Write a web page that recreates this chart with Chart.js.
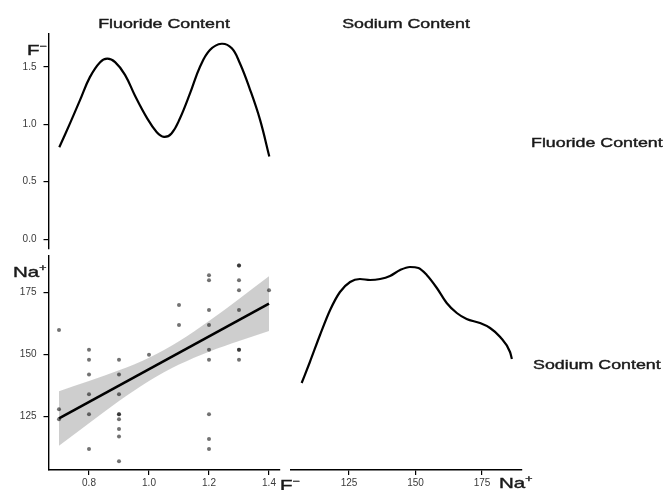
<!DOCTYPE html>
<html lang="en">
<head>
  <meta charset="UTF-8">
  <title>Fluoride / Sodium pairs plot</title>
  <script src="https://cdn.jsdelivr.net/npm/chart.js"></script>
  <style>
    body {
      margin: 0;
      background: #fff;
      font-family: "Liberation Sans", Arial, sans-serif;
    }
    #page {
      position: relative;
      width: 665px;
      height: 490px;
      overflow: hidden;
    }
    .layer {
      position: absolute;
      left: 0;
      top: 0;
      width: 665px;
      height: 490px;
    }
    .lbl {
      position: absolute;
      white-space: nowrap;
      color: #1a1a1a;
      line-height: 1;
      -webkit-text-stroke: 0.4px #1a1a1a;
    }
    .mid { transform: translate(-50%, -50%) scaleX(1.37); }
    .left { transform-origin: left center; transform: translateY(-50%) scaleX(1.37); }
    .strip { font-size: 13px; }
    .ax { font-size: 15px; }
    .ax sup { font-size: 9px; vertical-align: 6px; }
  </style>
</head>
<body>
<div id="page">
  <div class="layer"><canvas id="fDens"></canvas></div>
  <div class="layer"><canvas id="scatter"></canvas></div>
  <div class="layer"><canvas id="naDens"></canvas></div>

  <div class="lbl strip mid" style="left:164px;top:23px">Fluoride Content</div>
  <div class="lbl strip mid" style="left:406px;top:23px">Sodium Content</div>
  <div class="lbl strip left" style="left:531px;top:142px">Fluoride Content</div>
  <div class="lbl strip left" style="left:533px;top:364px">Sodium Content</div>

  <div class="lbl ax left" style="left:27px;top:49px">F<sup>−</sup></div>
  <div class="lbl ax left" style="left:13px;top:271px">Na<sup>+</sup></div>
  <div class="lbl ax left" style="left:280px;top:484px">F<sup>−</sup></div>
  <div class="lbl ax left" style="left:499px;top:482px">Na<sup>+</sup></div>
</div>

<script>
  // density of fluoride (diagonal, top-left)
  const fGrid = [0.701, 0.737, 0.770, 0.803, 0.837, 0.861, 0.887, 0.920, 0.953, 0.992, 1.026, 1.050,
                 1.075, 1.103, 1.137, 1.170, 1.203, 1.242, 1.276, 1.303, 1.337, 1.370, 1.401];
  const fDensity = [0.80, 1.01, 1.21, 1.41, 1.54, 1.57, 1.54, 1.43, 1.25, 1.06, 0.93, 0.89,
                    0.92, 1.05, 1.27, 1.50, 1.645, 1.70, 1.66, 1.53, 1.30, 1.04, 0.72];

  // density of sodium (diagonal, bottom-right)
  const naGrid = [107.2, 110.3, 114.1, 117.9, 121.6, 125.4, 129.1, 132.9, 136.7, 140.4, 144.2, 147.9,
                  151.1, 154.2, 158.0, 161.7, 165.5, 169.2, 174.2, 178.0, 181.8, 185.5, 186.2];
  const naDensity = [0.0087, 0.0108, 0.0135, 0.0160, 0.0178, 0.0188, 0.0191, 0.0190, 0.0191, 0.0194, 0.0200, 0.0203,
                     0.0202, 0.0195, 0.0182, 0.0167, 0.0157, 0.0151, 0.0147, 0.0142, 0.0133, 0.0118, 0.0111];

  // scatter (bottom-left)
  const fluoride = [0.7, 0.7, 0.7,
                    0.8, 0.8, 0.8, 0.8, 0.8, 0.8,
                    0.9, 0.9, 0.9, 0.9, 0.9, 0.9, 0.9, 0.9, 0.9,
                    1.0,
                    1.1, 1.1,
                    1.2, 1.2, 1.2, 1.2, 1.2, 1.2, 1.2, 1.2, 1.2,
                    1.3, 1.3, 1.3, 1.3, 1.3, 1.3, 1.3, 1.3,
                    1.4];
  const sodium = [160, 128, 124,
                  152, 148, 142, 134, 126, 112,
                  148, 142, 134, 126, 126, 124, 120, 117, 107,
                  150,
                  170, 162,
                  182, 180, 168, 162, 152, 148, 126, 116, 112,
                  186, 186, 180, 176, 168, 152, 152, 148,
                  176];

  // linear fit and its confidence band
  const fitX = [0.7, 1.4];
  const fitY = [124.3, 170.6];
  const bandX = [0.7, 0.8, 0.9, 1.0, 1.1, 1.2, 1.3, 1.4];
  const bandUpper = [135.3, 139.4, 143.7, 148.8, 155.4, 163.6, 172.5, 181.6];
  const bandLower = [113.3, 122.4, 131.3, 139.4, 146.0, 151.2, 155.5, 159.6];

  // tick labels
  const densTicks = [0, 0.5, 1.0, 1.5];
  const fTicks = [0.8, 1.0, 1.2, 1.4];
  const naTicks = [125, 150, 175];

  const tickFont = { family: '"Liberation Sans", Arial, sans-serif', size: 10 };
  const tickColor = '#3a3a3a';

  function pts(xs, ys) {
    return xs.map((x, i) => ({ x: x, y: ys[i] }));
  }

  function setTicks(values) {
    return s => { s.ticks = values.map(v => ({ value: v })); };
  }

  const axisBorder = { display: true, color: '#000', width: 1.4 };
  const axisGrid = { display: true, drawOnChartArea: false, drawTicks: true, tickLength: 5, color: '#000', lineWidth: 1.2 };

  const baseOpts = {
    responsive: true,
    maintainAspectRatio: false,
    animation: false,
    events: [],
    plugins: { legend: { display: false }, tooltip: { enabled: false } }
  };

  // top-left: fluoride density
  new Chart(document.getElementById('fDens'), {
    type: 'line',
    data: {
      datasets: [{
        data: pts(fGrid, fDensity),
        borderColor: '#000',
        borderWidth: 2.2,
        pointRadius: 0,
        tension: 0.4,
        fill: false
      }]
    },
    options: {
      ...baseOpts,
      layout: { padding: { left: 0, top: 34, right: 385.5, bottom: 241 } },
      scales: {
        x: { type: 'linear', min: 0.665, max: 1.435, display: false },
        y: {
          min: -0.085, max: 1.785,
          afterFit: s => { s.width = 48.5; },
          afterBuildTicks: setTicks(densTicks),
          border: axisBorder,
          grid: axisGrid,
          ticks: { font: tickFont, color: tickColor, padding: 7, callback: v => v.toFixed(1) }
        }
      }
    }
  });

  // bottom-left: scatter with fit
  new Chart(document.getElementById('scatter'), {
    type: 'scatter',
    data: {
      datasets: [
        {
          data: pts(fluoride, sodium),
          backgroundColor: 'rgba(20,20,20,0.6)',
          borderWidth: 0,
          pointRadius: 2
        },
        {
          type: 'line',
          data: pts(fitX, fitY),
          borderColor: '#000',
          borderWidth: 2.6,
          pointRadius: 0,
          fill: false
        },
        {
          type: 'line',
          data: pts(bandX, bandUpper),
          borderWidth: 0,
          pointRadius: 0,
          cubicInterpolationMode: 'monotone',
          backgroundColor: 'rgba(153,153,153,0.48)',
          fill: '+1'
        },
        {
          type: 'line',
          data: pts(bandX, bandLower),
          borderWidth: 0,
          pointRadius: 0,
          cubicInterpolationMode: 'monotone',
          fill: false
        }
      ]
    },
    options: {
      ...baseOpts,
      layout: { padding: { left: 0, top: 256, right: 385.5, bottom: 0 } },
      scales: {
        x: {
          type: 'linear', min: 0.665, max: 1.435,
          afterFit: s => { s.height = 20; },
          afterBuildTicks: setTicks(fTicks),
          border: axisBorder,
          grid: axisGrid,
          ticks: { font: tickFont, color: tickColor, padding: 2, maxRotation: 0, callback: v => v.toFixed(1) }
        },
        y: {
          min: 103.5, max: 189.8,
          afterFit: s => { s.width = 48.5; },
          afterBuildTicks: setTicks(naTicks),
          border: axisBorder,
          grid: axisGrid,
          ticks: { font: tickFont, color: tickColor, padding: 7 }
        }
      }
    }
  });

  // bottom-right: sodium density
  new Chart(document.getElementById('naDens'), {
    type: 'line',
    data: {
      datasets: [{
        data: pts(naGrid, naDensity),
        borderColor: '#000',
        borderWidth: 2.2,
        pointRadius: 0,
        cubicInterpolationMode: 'monotone',
        fill: false
      }]
    },
    options: {
      ...baseOpts,
      layout: { padding: { left: 291, top: 256, right: 143, bottom: 0 } },
      scales: {
        x: {
          type: 'linear', min: 103.2, max: 190,
          afterFit: s => { s.height = 20; },
          afterBuildTicks: setTicks(naTicks),
          border: axisBorder,
          grid: axisGrid,
          ticks: { font: tickFont, color: tickColor, padding: 2, maxRotation: 0 }
        },
        y: { min: 0, max: 0.0214, display: false }
      }
    }
  });
</script>
</body>
</html>
